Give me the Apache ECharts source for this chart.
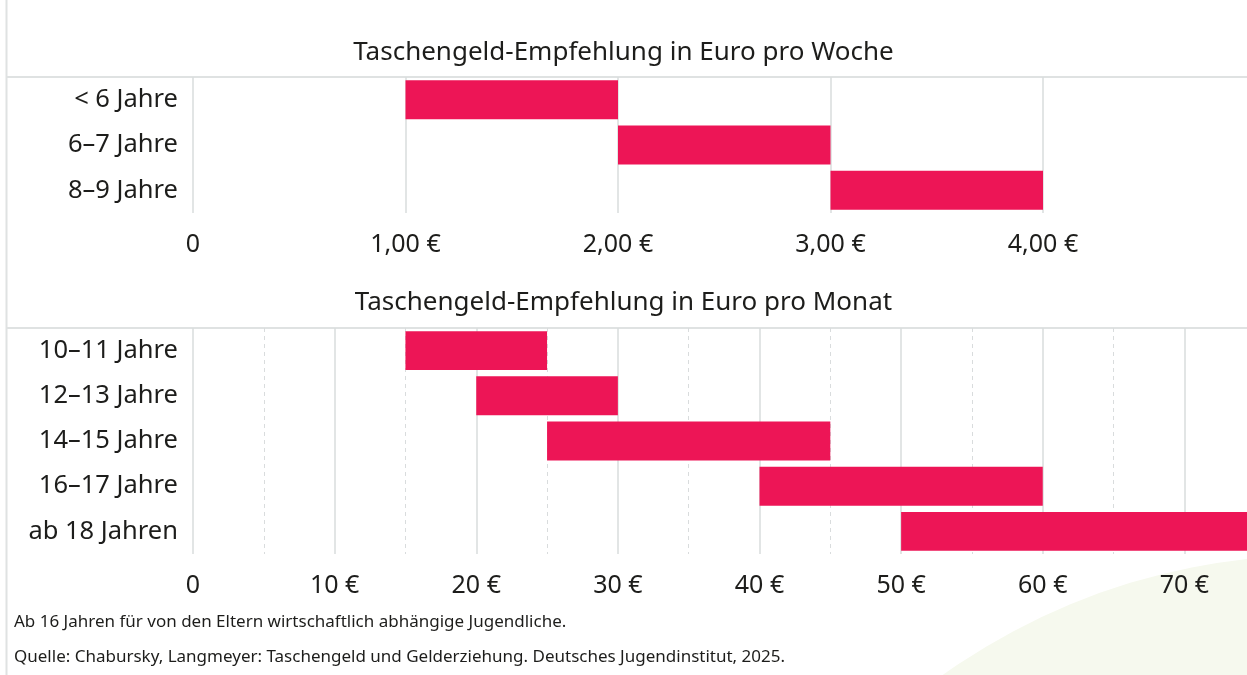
<!DOCTYPE html>
<html>
<head>
<meta charset="utf-8">
<script src="https://cdn.jsdelivr.net/npm/echarts@6/dist/echarts.min.js"></script>
<style>
  html, body { margin: 0; padding: 0; background: #fff; }
  #chart { width: 1247px; height: 675px; }
</style>
</head>
<body>
<div id="chart"></div>
<script>
// Taschengeld pro Woche
var weeklyAges = ['< 6 Jahre', '6–7 Jahre', '8–9 Jahre'];
var weeklyMin = [1, 2, 3];
var weeklyMax = [2, 3, 4];
var weeklyTickLabels = ['0', '1,00 €', '2,00 €', '3,00 €', '4,00 €'];

// Taschengeld pro Monat
var monthlyAges = ['10–11 Jahre', '12–13 Jahre', '14–15 Jahre', '16–17 Jahre', 'ab 18 Jahren'];
var monthlyMin = [15, 20, 25, 40, 50];
var monthlyMax = [25, 30, 45, 60, 75];
var monthlyTickLabels = ['0', '10 €', '20 €', '30 €', '40 €', '50 €', '60 €', '70 €'];

var titles = ['Taschengeld-Empfehlung in Euro pro Woche', 'Taschengeld-Empfehlung in Euro pro Monat'];
var notes = [
  'Ab 16 Jahren für von den Eltern wirtschaftlich abhängige Jugendliche.',
  'Quelle: Chabursky, Langmeyer: Taschengeld und Gelderziehung. Deutsches Jugendinstitut, 2025.'
];

(function() {
  var font = 'Noto Sans';
  var textColor = '#1d1d1b';
  var lineColor = '#d9dcdd';
  var barColor = '#ed1556';

  function spans(mins, maxs) {
    var out = [];
    for (var i = 0; i < mins.length; i++) {
      out.push(maxs[i] - mins[i]);
    }
    return out;
  }

  var catLabel = {
    fontFamily: font,
    fontSize: 25.5,
    color: textColor,
    margin: 15,
    padding: [7, 0, 0, 0]
  };

  var myChart = echarts.init(document.getElementById('chart'), null, { renderer: 'canvas' });
  var option = {
    animation: false,
    backgroundColor: '#fff',
    title: [{
      text: titles[0],
      left: 'center',
      top: 35,
      textStyle: { fontFamily: font, fontSize: 26, fontWeight: 'normal', color: textColor }
    }, {
      text: titles[1],
      left: 'center',
      top: 285,
      textStyle: { fontFamily: font, fontSize: 26, fontWeight: 'normal', color: textColor }
    }],
    grid: [
      { left: 193, top: 77, width: 850, height: 136, containLabel: false, outerBoundsMode: 'none' },
      { left: 193, top: 328, width: 1133, height: 226, containLabel: false, outerBoundsMode: 'none' }
    ],
    xAxis: [{
      gridIndex: 0,
      type: 'value',
      min: 0,
      max: 4,
      interval: 1,
      axisLine: { show: false },
      axisTick: { show: false },
      splitLine: { show: true, lineStyle: { color: lineColor, width: 1.5 } },
      axisLabel: {
        fontFamily: font, fontSize: 25, color: textColor, margin: 19,
        formatter: function(v) { return weeklyTickLabels[v]; }
      }
    }, {
      gridIndex: 1,
      type: 'value',
      min: 0,
      max: 80,
      interval: 10,
      axisLine: { show: false },
      axisTick: { show: false },
      minorTick: { show: false, splitNumber: 2 },
      splitLine: { show: true, lineStyle: { color: lineColor, width: 1.5 } },
      minorSplitLine: { show: true, lineStyle: { color: lineColor, width: 1, type: [4, 4] } },
      axisLabel: {
        fontFamily: font, fontSize: 25, color: textColor, margin: 19,
        showMaxLabel: false,
        formatter: function(v) { return monthlyTickLabels[v / 10] || ''; }
      }
    }],
    yAxis: [{
      gridIndex: 0,
      type: 'category',
      inverse: true,
      data: weeklyAges,
      axisLine: { show: false },
      axisTick: { show: false },
      axisLabel: catLabel
    }, {
      gridIndex: 1,
      type: 'category',
      inverse: true,
      data: monthlyAges,
      axisLine: { show: false },
      axisTick: { show: false },
      axisLabel: catLabel
    }],
    series: [{
      type: 'bar',
      xAxisIndex: 0, yAxisIndex: 0,
      stack: 'woche',
      data: weeklyMin,
      itemStyle: { color: 'transparent' },
      barCategoryGap: '14%',
      silent: true
    }, {
      type: 'bar',
      xAxisIndex: 0, yAxisIndex: 0,
      stack: 'woche',
      data: spans(weeklyMin, weeklyMax),
      itemStyle: { color: barColor },
      barCategoryGap: '14%',
      silent: true
    }, {
      type: 'bar',
      xAxisIndex: 1, yAxisIndex: 1,
      stack: 'monat',
      data: monthlyMin,
      itemStyle: { color: 'transparent' },
      barCategoryGap: '14%',
      silent: true
    }, {
      type: 'bar',
      xAxisIndex: 1, yAxisIndex: 1,
      stack: 'monat',
      data: spans(monthlyMin, monthlyMax),
      itemStyle: { color: barColor },
      barCategoryGap: '14%',
      silent: true
    }],
    graphic: [{
      type: 'circle',
      shape: { cx: 1318, cy: 1202, r: 647 },
      style: { fill: '#f6f9ee' },
      z: -10,
      silent: true
    }, {
      type: 'line',
      shape: { x1: 6.5, y1: 0, x2: 6.5, y2: 675 },
      style: { stroke: '#dfe2e2', lineWidth: 2 },
      silent: true
    }, {
      type: 'line',
      shape: { x1: 6, y1: 77, x2: 1247, y2: 77 },
      style: { stroke: '#dfe2e2', lineWidth: 2 },
      silent: true
    }, {
      type: 'line',
      shape: { x1: 6, y1: 328, x2: 1247, y2: 328 },
      style: { stroke: '#dfe2e2', lineWidth: 2 },
      silent: true
    }, {
      type: 'text',
      left: 14,
      top: 614,
      style: { text: notes[0], font: '17px "Noto Sans"', fill: textColor },
      silent: true
    }, {
      type: 'text',
      left: 14,
      top: 649,
      style: { text: notes[1], font: '17px "Noto Sans"', fill: textColor },
      silent: true
    }]
  };
  myChart.setOption(option);
})();
</script>
</body>
</html>
